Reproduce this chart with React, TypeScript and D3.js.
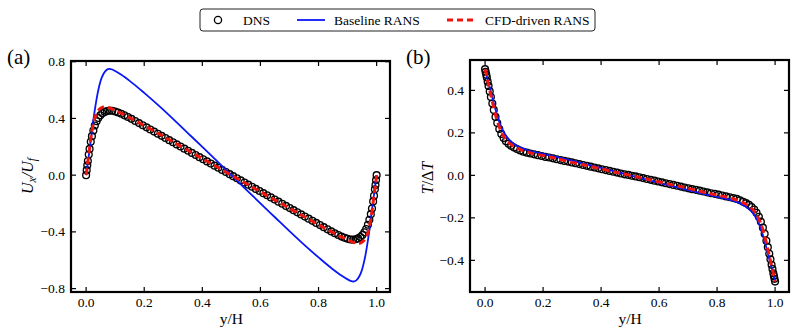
import * as d3 from 'd3'

// DNS sample locations (shared by both panels)
const dnsY = [
  0, 0.002, 0.004, 0.006, 0.009, 0.012, 0.016, 0.020, 0.025, 0.030,
  0.036, 0.042, 0.049, 0.056, 0.064, 0.072, 0.081, 0.090, 0.100, 0.110,
  0.121, 0.132, 0.144, 0.156, 0.169, 0.182, 0.195, 0.208, 0.221, 0.234,
  0.247, 0.260, 0.273, 0.286, 0.299, 0.312, 0.325, 0.338, 0.351, 0.364,
  0.377, 0.390, 0.403, 0.416, 0.429, 0.442, 0.455, 0.468, 0.481, 0.494,
  0.506, 0.519, 0.532, 0.545, 0.558, 0.571, 0.584, 0.597, 0.610, 0.623,
  0.636, 0.649, 0.662, 0.675, 0.688, 0.701, 0.714, 0.727, 0.740, 0.753,
  0.766, 0.779, 0.792, 0.805, 0.818, 0.831, 0.844, 0.856, 0.868, 0.879,
  0.890, 0.900, 0.910, 0.919, 0.928, 0.936, 0.944, 0.951, 0.958, 0.964,
  0.970, 0.975, 0.980, 0.984, 0.988, 0.991, 0.994, 0.996, 0.998, 1.0,
]

const dnsUx = [
  0, 0.035, 0.07, 0.10, 0.145, 0.185, 0.235, 0.275, 0.315, 0.35,
  0.38, 0.403, 0.422, 0.436, 0.446, 0.452, 0.455, 0.454, 0.449, 0.442,
  0.433, 0.422, 0.41, 0.397, 0.382, 0.367, 0.352, 0.337, 0.322, 0.307,
  0.292, 0.277, 0.262, 0.247, 0.232, 0.217, 0.202, 0.187, 0.172, 0.157,
  0.142, 0.127, 0.112, 0.097, 0.082, 0.067, 0.052, 0.037, 0.022, 0.007,
  -0.007, -0.022, -0.037, -0.052, -0.067, -0.082, -0.097, -0.112, -0.127, -0.142,
  -0.157, -0.172, -0.187, -0.202, -0.217, -0.232, -0.247, -0.262, -0.277, -0.292,
  -0.307, -0.322, -0.337, -0.352, -0.367, -0.382, -0.397, -0.41, -0.422, -0.433,
  -0.442, -0.449, -0.454, -0.455, -0.452, -0.446, -0.436, -0.422, -0.403, -0.38,
  -0.35, -0.315, -0.275, -0.235, -0.185, -0.145, -0.10, -0.07, -0.035, 0,
]

const dnsT = [
  0.5, 0.487, 0.474, 0.461, 0.441, 0.421, 0.395, 0.369, 0.338, 0.308,
  0.275, 0.246, 0.218, 0.195, 0.176, 0.161, 0.149, 0.139, 0.131, 0.124,
  0.117, 0.111, 0.107, 0.103, 0.099, 0.095, 0.091, 0.087, 0.084, 0.080,
  0.076, 0.072, 0.068, 0.065, 0.061, 0.057, 0.053, 0.049, 0.045, 0.041,
  0.037, 0.033, 0.029, 0.025, 0.021, 0.017, 0.013, 0.009, 0.005, 0.002,
  -0.002, -0.005, -0.009, -0.013, -0.017, -0.021, -0.025, -0.029, -0.033, -0.037,
  -0.041, -0.045, -0.049, -0.053, -0.057, -0.061, -0.065, -0.068, -0.072, -0.076,
  -0.080, -0.084, -0.087, -0.091, -0.095, -0.099, -0.103, -0.107, -0.111, -0.117,
  -0.124, -0.131, -0.139, -0.149, -0.161, -0.176, -0.195, -0.218, -0.246, -0.275,
  -0.308, -0.338, -0.369, -0.395, -0.421, -0.441, -0.461, -0.474, -0.487, -0.5,
]

// RANS solution locations
const ransY = [
  0, 0.005, 0.01, 0.015, 0.02, 0.025, 0.03, 0.04, 0.05, 0.06, 0.07, 0.08,
  0.09, 0.1, 0.12, 0.15, 0.2, 0.25, 0.3, 0.35, 0.4, 0.45, 0.5,
  0.55, 0.6, 0.65, 0.7, 0.75, 0.8, 0.85, 0.88, 0.9, 0.91, 0.92, 0.93,
  0.94, 0.95, 0.96, 0.97, 0.975, 0.98, 0.985, 0.99, 0.995, 1.0,
]

const baselineUx = [
  0, 0.07, 0.15, 0.23, 0.31, 0.39, 0.46, 0.58, 0.665, 0.715, 0.742, 0.75,
  0.745, 0.735, 0.71, 0.665, 0.58, 0.49, 0.395, 0.297, 0.199, 0.1, 0,
  -0.1, -0.199, -0.297, -0.395, -0.49, -0.58, -0.665, -0.71, -0.735, -0.745, -0.75, -0.742,
  -0.715, -0.665, -0.58, -0.46, -0.39, -0.31, -0.23, -0.15, -0.07, 0,
]

const cfdUx = [
  0, 0.08, 0.16, 0.24, 0.31, 0.365, 0.405, 0.45, 0.472, 0.481, 0.48, 0.474,
  0.466, 0.457, 0.437, 0.405, 0.35, 0.292, 0.234, 0.176, 0.117, 0.059, 0,
  -0.059, -0.117, -0.176, -0.234, -0.292, -0.35, -0.405, -0.437, -0.457, -0.466, -0.474, -0.48,
  -0.481, -0.472, -0.45, -0.405, -0.365, -0.31, -0.24, -0.16, -0.08, 0,
]

const baselineT = [
  0.5, 0.472, 0.445, 0.42, 0.395, 0.368, 0.34, 0.29, 0.247, 0.214, 0.19, 0.172,
  0.159, 0.148, 0.132, 0.117, 0.101, 0.086, 0.069, 0.052, 0.035, 0.018, 0,
  -0.018, -0.035, -0.052, -0.069, -0.086, -0.101, -0.117, -0.132, -0.148, -0.159, -0.172, -0.19,
  -0.214, -0.247, -0.29, -0.34, -0.368, -0.395, -0.42, -0.445, -0.472, -0.5,
]

const cfdT = [
  0.5, 0.468, 0.437, 0.407, 0.378, 0.348, 0.318, 0.265, 0.224, 0.194, 0.172, 0.156,
  0.145, 0.136, 0.122, 0.108, 0.093, 0.078, 0.061, 0.046, 0.031, 0.015, 0,
  -0.015, -0.031, -0.046, -0.061, -0.078, -0.093, -0.108, -0.122, -0.136, -0.145, -0.156, -0.172,
  -0.194, -0.224, -0.265, -0.318, -0.348, -0.378, -0.407, -0.437, -0.468, -0.5,
]

const xTicks = [0, 0.2, 0.4, 0.6, 0.8, 1.0]
const uxTicks = [-0.8, -0.4, 0, 0.4, 0.8]
const tTicks = [-0.4, -0.2, 0, 0.2, 0.4]

const FONT = '"Liberation Serif", "Times New Roman", serif'
const BLUE = '#0a17f5'
const RED = '#f0160f'
const fmt = d3.format('.1f')

function Panel({ frame, xDomain, yDomain, yTicks, dns, base, cfd }) {
  const x = d3.scaleLinear().domain(xDomain).range([frame.left, frame.right])
  const y = d3.scaleLinear().domain(yDomain).range([frame.bottom, frame.top])
  const line = d3.line<number>()
    .x((_, i) => x(ransY[i]))
    .y((d) => y(d))
    .curve(d3.curveMonotoneX)
  const tl = 5

  return (
    <g>
      {/* DNS markers */}
      {dns.map((v, i) => (
        <circle key={i} cx={x(dnsY[i])} cy={y(v)} r={3.4}
          fill="none" stroke="#000" strokeWidth={1.35} />
      ))}
      <path d={line(base) ?? ''} fill="none" stroke={BLUE} strokeWidth={1.8} />
      <path d={line(cfd) ?? ''} fill="none" stroke={RED} strokeWidth={3} strokeDasharray="7,4" />

      {/* ticks */}
      {xTicks.map((t) => (
        <g key={'x' + t}>
          <line x1={x(t)} x2={x(t)} y1={frame.bottom} y2={frame.bottom - tl} stroke="#000" strokeWidth={1.2} />
          <line x1={x(t)} x2={x(t)} y1={frame.top} y2={frame.top + tl} stroke="#000" strokeWidth={1.2} />
          <text x={x(t)} y={frame.bottom + 15} textAnchor="middle" fontSize={13.5} fontFamily={FONT}>{fmt(t)}</text>
        </g>
      ))}
      {yTicks.map((t) => (
        <g key={'y' + t}>
          <line x1={frame.left} x2={frame.left + tl} y1={y(t)} y2={y(t)} stroke="#000" strokeWidth={1.2} />
          <line x1={frame.right} x2={frame.right - tl} y1={y(t)} y2={y(t)} stroke="#000" strokeWidth={1.2} />
          <text x={frame.left - 6} y={y(t) + 4.5} textAnchor="end" fontSize={13.5} fontFamily={FONT}>{fmt(t)}</text>
        </g>
      ))}
      <rect x={frame.left} y={frame.top} width={frame.right - frame.left} height={frame.bottom - frame.top}
        fill="none" stroke="#000" strokeWidth={2.2} />
      <text x={(x(0) + x(1)) / 2} y={frame.bottom + 32} textAnchor="middle" fontSize={15.5} fontFamily={FONT}>y/H</text>
    </g>
  )
}

export default function App() {
  const frameA = { left: 71, right: 390, top: 61, bottom: 292 }
  const frameB = { left: 470, right: 789, top: 60, bottom: 292 }

  return (
    <svg width={798} height={335} style={{ position: 'absolute', left: 0, top: 0, background: '#fff' }}>
      <rect width={798} height={335} fill="#fff" />

      {/* legend */}
      <rect x={200} y={9} width={395} height={22} rx={3} fill="#fff" stroke="#222" strokeWidth={1} />
      <circle cx={218} cy={20} r={3.6} fill="none" stroke="#000" strokeWidth={1.3} />
      <text x={243} y={24.5} fontSize={13.5} fontFamily={FONT}>DNS</text>
      <line x1={297} x2={325} y1={20} y2={20} stroke={BLUE} strokeWidth={1.8} />
      <text x={334} y={24.5} fontSize={13.5} fontFamily={FONT}>Baseline RANS</text>
      <line x1={447} x2={473} y1={20} y2={20} stroke={RED} strokeWidth={3} strokeDasharray="6,4" />
      <text x={485} y={24.5} fontSize={13.5} fontFamily={FONT}>CFD-driven RANS</text>

      <text x={7} y={64} fontSize={21} fontFamily={FONT}>(a)</text>
      <text x={406} y={64} fontSize={21} fontFamily={FONT}>(b)</text>

      <Panel frame={frameA} xDomain={[-0.052, 1.046]} yDomain={[-0.824, 0.805]}
        yTicks={uxTicks} dns={dnsUx} base={baselineUx} cfd={cfdUx} />
      <Panel frame={frameB} xDomain={[-0.052, 1.048]} yDomain={[-0.549, 0.543]}
        yTicks={tTicks} dns={dnsT} base={baselineT} cfd={cfdT} />

      <text transform="translate(33,176) rotate(-90)" textAnchor="middle" fontSize={16} fontFamily={FONT} fontStyle="italic">
        U<tspan dy={3} fontSize={11.5}>x</tspan><tspan dy={-3}>/U</tspan><tspan dy={3} fontSize={11.5}>f</tspan>
      </text>
      <text transform="translate(433,178) rotate(-90)" textAnchor="middle" fontSize={16} fontFamily={FONT}>
        <tspan fontStyle="italic">T</tspan>/Δ<tspan fontStyle="italic">T</tspan>
      </text>
    </svg>
  )
}
